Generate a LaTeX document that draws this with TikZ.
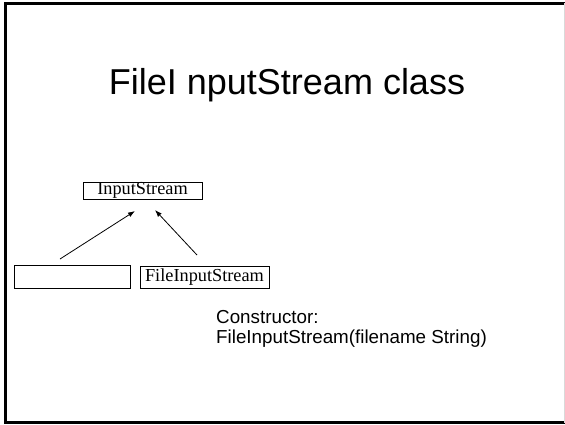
\documentclass[tikz,border=0pt]{standalone}
\usepackage{fontspec}
\setmainfont{Liberation Serif}
\newfontfamily\arialfont{Liberation Sans}
\usetikzlibrary{arrows.meta}
\begin{document}
\begin{tikzpicture}[x=1pt,y=-1pt,
  classbox/.style={draw,line width=0.8pt,inner sep=0pt,font=\fontsize{18.3}{20}\selectfont},
  inherit/.style={-{Latex[length=7pt,width=5pt]},line width=0.8pt},
  bodytext/.style={anchor=base west,inner sep=0pt,font=\arialfont\fontsize{18.8}{21}\selectfont}]
\useasboundingbox (0,0) rectangle (565,424);
% slide frame
\draw[line width=2.7pt] (565,3.3) -- (5.3,3.3) -- (5.3,422.7) -- (565,422.7);
\draw[line width=1pt,black!15] (564.3,3.3) -- (564.3,422.7);
% title
\node[anchor=base,inner sep=0pt,font=\arialfont\fontsize{36}{40}\selectfont] (title) at (287,94.3) {FileI nputStream class};
% class hierarchy
\node[classbox,minimum width=119pt,minimum height=17pt] (base) at (142.5,190.5) {InputStream};
\node[classbox,minimum width=116pt,minimum height=23pt] (other) at (72,276.5) {};
\node[classbox,minimum width=129pt,minimum height=22pt] (file) at (204.5,277) {FileInputStream};
\coordinate (a1s) at (60,259);
\coordinate (a1e) at (135,211);
\coordinate (a2s) at (197,255);
\coordinate (a2e) at (155,210);
\draw[inherit] (a1s) -- (a1e);
\draw[inherit] (a2s) -- (a2e);
% constructor note
\node[bodytext] (ctor) at (216,323.3) {Constructor:};
\node[bodytext] (sig) at (216,343.3) {FileInputStream(filename String)};
\end{tikzpicture}
\end{document}
